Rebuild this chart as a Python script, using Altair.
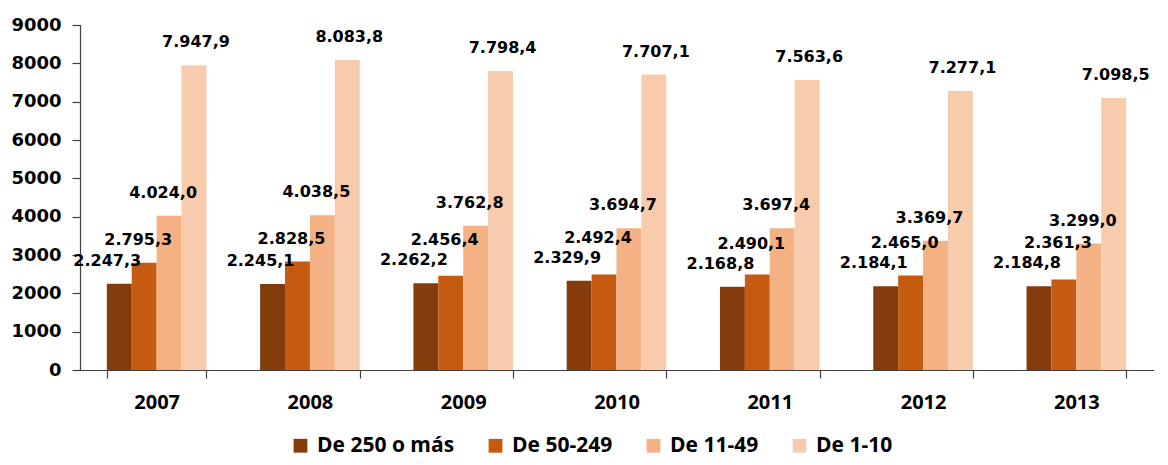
import altair as alt
import pandas as pd

# ---- data ----
years = ["2007", "2008", "2009", "2010", "2011", "2012", "2013"]
series = ["De 250 o más", "De 50-249", "De 11-49", "De 1-10"]
colors = ["#843C0C", "#C55A11", "#F4B183", "#F8CBAD"]

v_250 = [2247.3, 2245.1, 2262.2, 2329.9, 2168.8, 2184.1, 2184.8]
v_50 = [2795.3, 2828.5, 2456.4, 2492.4, 2490.1, 2465.0, 2361.3]
v_11 = [4024.0, 4038.5, 3762.8, 3694.7, 3697.4, 3369.7, 3299.0]
v_1 = [7947.9, 8083.8, 7798.4, 7707.1, 7563.6, 7277.1, 7098.5]

y_ticks = list(range(0, 9001, 1000))

# ---- styling ----
LABEL_GAP = 520  # minimum vertical separation (data units) between labels of one year
label_dx = {"De 250 o más": -12, "De 50-249": -6, "De 11-49": -6, "De 1-10": 2}


def es_fmt(v):
    s = f"{v:,.1f}"
    return s.replace(",", "X").replace(".", ",").replace("X", ".")


values = [v_250, v_50, v_11, v_1]
rows = []
for i, yr in enumerate(years):
    prev = None
    for s, vals in zip(series, values):
        v = vals[i]
        ly = v if prev is None else max(v, prev + LABEL_GAP)
        prev = ly
        rows.append({"year": yr, "series": s, "value": v, "label_y": ly,
                     "label": es_fmt(v)})
df = pd.DataFrame(rows)

x_axis = alt.Axis(
    title=None, labelAngle=0, tickBand="extent", tickSize=8,
    labelFont="Open Sans", labelFontSize=20, labelFontWeight="bold",
    labelColor="#000000", labelPadding=14, domainColor="#404040",
    tickColor="#404040", domainWidth=1.2, tickWidth=1.2,
)
y_axis = alt.Axis(
    title=None, values=y_ticks, format="d", labelOverlap=False, grid=False,
    tickSize=8, labelPadding=11,
    labelFont="DejaVu Sans", labelFontSize=18, labelFontWeight="bold",
    labelColor="#000000", domainColor="#404040", tickColor="#404040",
    domainWidth=1.2, tickWidth=1.2,
)
x_scale = alt.Scale(paddingInner=0.35, paddingOuter=0.175)
y_scale = alt.Scale(domain=[0, 9000], nice=False)
xoff = alt.XOffset("series:N", sort=series, scale=alt.Scale(paddingInner=0, paddingOuter=0))

color_enc = alt.Color(
    "series:N", sort=series,
    scale=alt.Scale(domain=series, range=colors),
    legend=alt.Legend(
        title=None, orient="none", legendX=210, legendY=410, direction="horizontal",
        columns=4, symbolType="square", symbolSize=190, symbolStrokeWidth=0,
        labelFont="Open Sans", labelFontSize=21, labelFontWeight="bold",
        labelColor="#000000", labelOffset=6, columnPadding=30, padding=0,
    ),
)

bars = alt.Chart(df).mark_bar(width={"band": 1}).encode(
    x=alt.X("year:N", sort=years, scale=x_scale, axis=x_axis),
    xOffset=xoff,
    y=alt.Y("value:Q", scale=y_scale, axis=y_axis),
    color=color_enc,
)

text_layers = []
for s in series:
    t = alt.Chart(df).transform_filter(alt.datum.series == s).mark_text(
        font="DejaVu Sans", fontSize=16, fontWeight="bold", color="#000000",
        baseline="middle", align="center", dy=-23, dx=label_dx[s],
    ).encode(
        x=alt.X("year:N", sort=years, scale=x_scale, axis=x_axis),
        xOffset=xoff,
        y=alt.Y("label_y:Q", scale=y_scale, axis=y_axis),
        text="label:N",
    )
    text_layers.append(t)

chart = alt.layer(bars, *text_layers).properties(
    width=1073,
    height=345,
    autosize=alt.AutoSizeParams(type="none"),
    padding={"left": 72, "top": 17, "right": 7, "bottom": 87},
).configure_view(stroke=None).configure_axis(domainCap="square")

chart.save("out.html", embed_options={"renderer": "svg", "actions": False})
